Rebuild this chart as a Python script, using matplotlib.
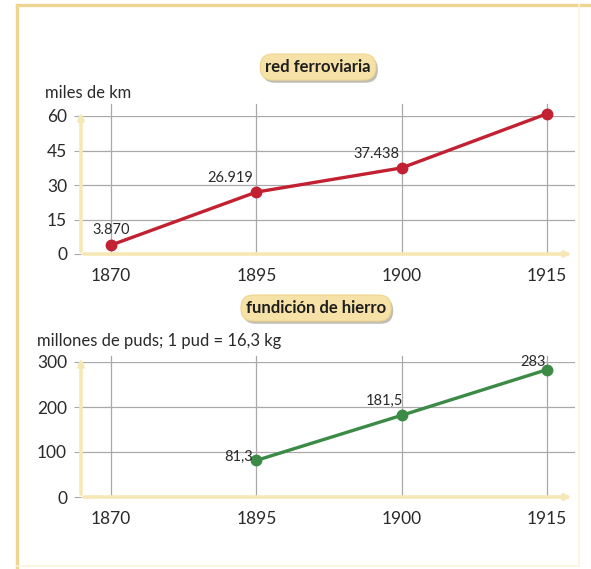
import matplotlib
matplotlib.use("Agg")
import matplotlib.pyplot as plt
from matplotlib.lines import Line2D
import matplotlib.patheffects as pe

plt.rcParams['font.family'] = ['Lato', 'DejaVu Sans']

years = ["1870", "1895", "1900", "1915"]
rail_values = [3.870, 26.919, 37.438, 60.980]
rail_labels = ["3.870", "26.919", "37.438", "60.980"]
rail_ticks = [0, 15, 30, 45, 60]
iron_years_idx = [1, 2, 3]
iron_values = [81.3, 181.5, 283]
iron_labels = ["81,3", "181,5", "283"]
iron_ticks = [0, 100, 200, 300]

W, H = 591, 569
fig = plt.figure(figsize=(W / 100, H / 100), dpi=100)
fig.patch.set_facecolor("white")

# frame
frame_col = "#eed592"
fig.add_artist(Line2D([17 / W, 17 / W], [0, 1 - 5 / H], color=frame_col, lw=2.4))
fig.add_artist(Line2D([17 / W, 1], [1 - 5 / H, 1 - 5 / H], color=frame_col, lw=2.4))
fig.add_artist(Line2D([579 / W, 579 / W], [3 / H, 1 - 5 / H], color="#fbf3dc", lw=1.2))
fig.add_artist(Line2D([17 / W, 579 / W], [3 / H, 3 / H], color="#fbf3dc", lw=1.2))

xl = (81 / W)
xw = (575 - 81) / W
xmin, xmax = (81 - 111) / 145.33, (575 - 111) / 145.33

grid_col = "#a9a9a9"
axis_col = "#f6e8b4"


def make_axes(top_px, bottom_px, ticks, ymax, extra_top_px):
    ax = fig.add_axes([xl, 1 - bottom_px / H, xw, (bottom_px - top_px) / H])
    ax.set_xlim(xmin, xmax)
    ax.set_ylim(0, ymax)
    for s in ax.spines.values():
        s.set_visible(False)
    ax.set_facecolor("none")
    ax.set_yticks(ticks)
    ax.set_yticklabels([str(t) for t in ticks])
    ax.set_xticks(range(len(years)))
    ax.set_xticklabels(years)
    ax.tick_params(axis="y", length=5, width=0.8, color=grid_col, pad=5,
                   labelsize=12.5, labelcolor="#2a2a2a")
    ax.tick_params(axis="x", length=0, pad=10, labelsize=12.5, labelcolor="#2a2a2a")
    for t in ticks[1:]:
        ax.axhline(t, color=grid_col, lw=0.9, zorder=1)
    frac = extra_top_px / (bottom_px - top_px)
    for i in range(len(years)):
        ax.plot([i, i], [0, ymax * (1 + frac)], color=grid_col, lw=0.9,
                zorder=1, clip_on=False)
    # yellow axes with arrows
    ax.annotate("", xy=(1.0, 0), xytext=(0, 0), xycoords="axes fraction",
                arrowprops=dict(arrowstyle="-|>,head_length=0.35,head_width=0.15",
                                color=axis_col, lw=2.6), zorder=2)
    ax.annotate("", xy=(0, 1 + 7 / (bottom_px - top_px)), xytext=(0, 0),
                xycoords="axes fraction",
                arrowprops=dict(arrowstyle="-|>,head_length=0.35,head_width=0.15",
                                color=axis_col, lw=2.6), zorder=2)
    return ax


def badge(x_px, y_px, text):
    t = fig.text(x_px / W, 1 - y_px / H, text, color="#1e1e1e",
                 ha="center", va="center", fontsize=12, fontweight="bold",
                 bbox=dict(boxstyle="round,pad=0.3,rounding_size=0.75",
                           fc="#f6e2a6", ec="#efd590", lw=0.8))
    t.get_bbox_patch().set_path_effects(
        [pe.withSimplePatchShadow(offset=(1.5, -2), shadow_rgbFace="#9a9282", alpha=0.6)])


# top chart
ax1 = make_axes(116, 254, rail_ticks, 60, 12)
ax1.plot(range(len(years)), rail_values, color="#c12130", lw=2.4,
         marker="o", ms=7.5, zorder=4, clip_on=False)
rail_off = [(0, 15), (-26, 14), (-25, 14), (-28, 10)]
for i, (v, lab, off) in enumerate(zip(rail_values, rail_labels, rail_off)):
    ax1.annotate(lab, (i, v), xytext=off, textcoords="offset pixels",
                 ha="center", va="center", fontsize=10.5, color="#2a2a2a", zorder=5)
fig.text(45 / W, 1 - 93 / H, "miles de km", ha="left", va="center",
         fontsize=12, color="#2a2a2a")
badge(318, 67, "red ferroviaria")

# bottom chart
ax2 = make_axes(362, 497, iron_ticks, 300, 6)
ax2.plot(iron_years_idx, iron_values, color="#3b8a45", lw=2.4,
         marker="o", ms=7.5, zorder=4, clip_on=False)
iron_off = [(-18, 4), (-17, 14), (-14, 8)]
for i, v, lab, off in zip(iron_years_idx, iron_values, iron_labels, iron_off):
    ax2.annotate(lab, (i, v), xytext=off, textcoords="offset pixels",
                 ha="center", va="center", fontsize=10.5, color="#2a2a2a", zorder=5)
fig.text(37 / W, 1 - 341 / H, "millones de puds; 1 pud = 16,3 kg", ha="left",
         va="center", fontsize=12, color="#2a2a2a")
badge(316, 308, "fundición de hierro")

fig.savefig("out.png", dpi=100)
